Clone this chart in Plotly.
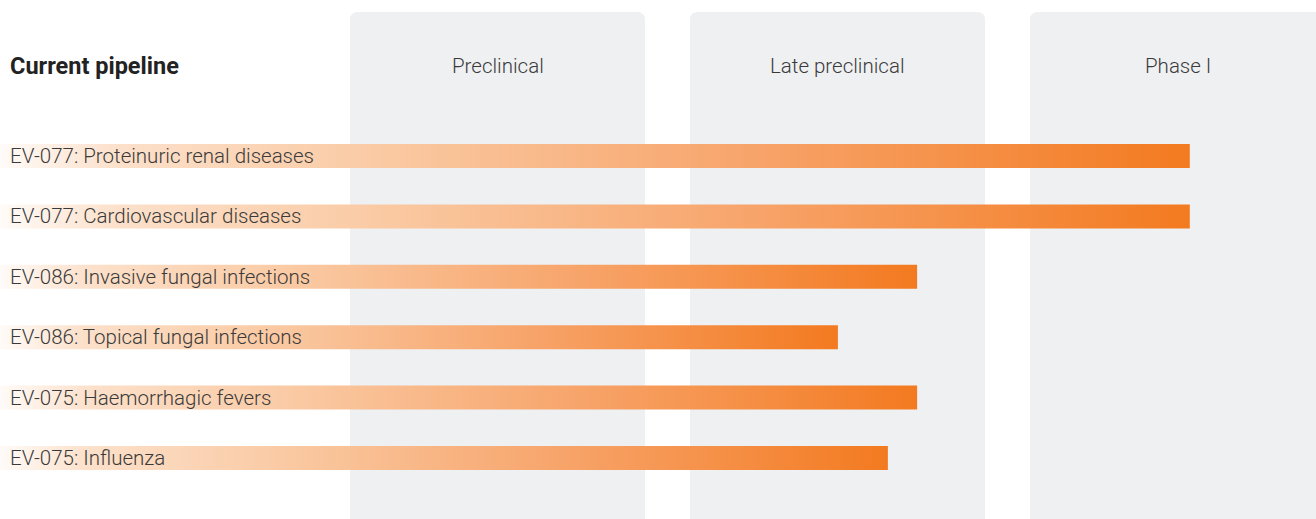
import plotly.graph_objects as go

# ---- data ----
title_text = "Current pipeline"
stages = ["Preclinical", "Late preclinical", "Phase I"]
projects = [
    "EV-077: Proteinuric renal diseases",
    "EV-077: Cardiovascular diseases",
    "EV-086: Invasive fungal infections",
    "EV-086: Topical fungal infections",
    "EV-075: Haemorrhagic fevers",
    "EV-075: Influenza",
]
# progress measured in stage units (stage k column starts at k)
progress = [2.47, 2.47, 1.668, 1.435, 1.668, 1.582]

# ---- style ----
W, H = 1316, 519
PITCH = 340.0          # px per stage unit
PANEL_W = 295.0 / PITCH
X0 = -350.0 / PITCH
X1 = (W - 350.0) / PITCH
ROW = 60.4             # px per row
Y_TOP = -156.0 / ROW
Y_BOT = (H - 156.0) / ROW
BAR_H = 12.0 / ROW
HEADER_Y = (66.0 - 156.0) / ROW
LABEL_FONT = dict(family="Roboto", size=20.5, color="#3a3a3a", weight=300)
grad = [[0.0, "#FFFBF8"], [0.1, "#FCE0CA"], [0.3, "#FACCA7"],
        [0.65, "#F7A267"], [1.0, "#F37A20"]]

fig = go.Figure()
for i, (name, v) in enumerate(zip(projects, progress)):
    fig.add_trace(go.Scatter(
        x=[X0, v, v, X0, X0],
        y=[i - BAR_H, i - BAR_H, i + BAR_H, i + BAR_H, i - BAR_H],
        mode="lines", line=dict(width=0), fill="toself",
        fillgradient=dict(type="horizontal", colorscale=grad),
        hoverinfo="text", text=name, showlegend=False,
    ))
    fig.add_annotation(x=8 / W, xref="paper", y=i, yref="y", text=name,
                       showarrow=False, xanchor="left", yanchor="middle",
                       font=LABEL_FONT)

# panels with rounded top corners
rx = 8.0 / PITCH
ry = 8.0 / H
ptop = 1 - 12.0 / H
for k, s in enumerate(stages):
    a, b = k, k + PANEL_W
    path = (f"M {a},-0.05 L {a},{ptop - ry} Q {a},{ptop} {a + rx},{ptop} "
            f"L {b - rx},{ptop} Q {b},{ptop} {b},{ptop - ry} L {b},-0.05 Z")
    fig.add_shape(type="path", path=path, xref="x", yref="paper",
                  fillcolor="#EFF0F2", line=dict(width=0), layer="below")
    fig.add_annotation(x=k + PANEL_W / 2, xref="x", y=HEADER_Y, yref="y",
                       text=s, showarrow=False, xanchor="center",
                       yanchor="middle", font=LABEL_FONT)

fig.add_annotation(x=8 / W, xref="paper", y=HEADER_Y, yref="y",
                   text=f"<b>{title_text}</b>", showarrow=False,
                   xanchor="left", yanchor="middle",
                   font=dict(family="Roboto", size=23.5, color="#222222"))

fig.update_layout(
    width=W, height=H, margin=dict(l=0, r=0, t=0, b=0),
    paper_bgcolor="white", plot_bgcolor="white",
    xaxis=dict(range=[X0, X1], visible=False, fixedrange=True),
    yaxis=dict(range=[Y_BOT, Y_TOP], visible=False, fixedrange=True),
    showlegend=False,
)
fig.write_html("out.html", config={"displayModeBar": False},
               post_script="document.body.style.margin='0';")
